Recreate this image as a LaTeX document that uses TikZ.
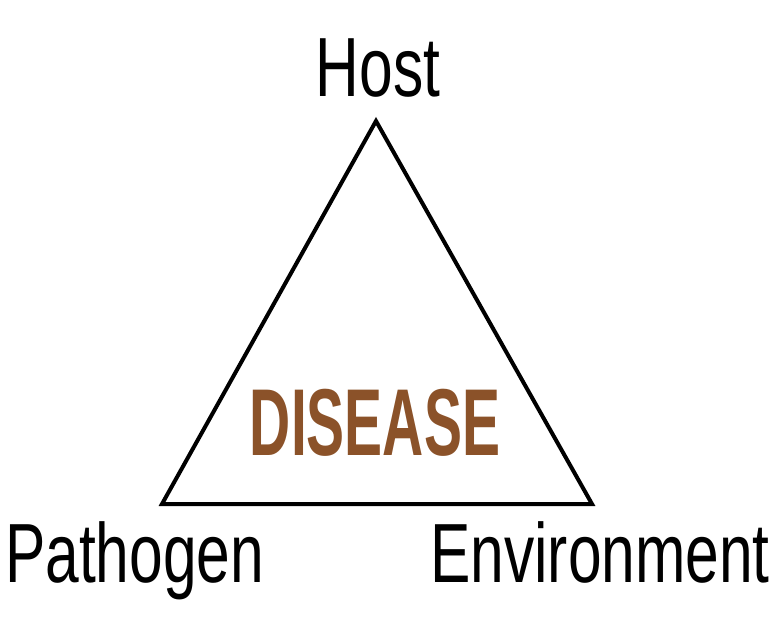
\documentclass[tikz,border=0pt]{standalone}
\usepackage{fontspec}
\newfontfamily\lblfont[FakeStretch=0.72]{Liberation Sans}
\newfontfamily\dzfont[FakeStretch=0.60]{Liberation Sans Bold}
\definecolor{dzbrown}{RGB}{139,82,41}
\begin{document}
\begin{tikzpicture}[x=1pt,y=-1pt,
  lbl/.style={inner sep=0pt,font=\lblfont\fontsize{84}{84}\selectfont},
  dz/.style={inner sep=0pt,text=dzbrown,font=\dzfont\fontsize{95}{95}\selectfont}]
\useasboundingbox (0,0) rectangle (773,635);
\coordinate (top) at (376,121);
\coordinate (bl) at (162,504);
\coordinate (br) at (592,504);
\draw[line width=4pt,line join=miter] (top) -- (bl) -- (br) -- cycle;
\node[lbl,anchor=base] (host) at (378,96) {Host};
\node[lbl,anchor=base west] (path) at (5,582) {Pathogen};
\node[lbl,anchor=base east] (env) at (770,582) {Environment};
\node[dz,anchor=base] (dis) at (375,455) {DISEASE};
\end{tikzpicture}
\end{document}
